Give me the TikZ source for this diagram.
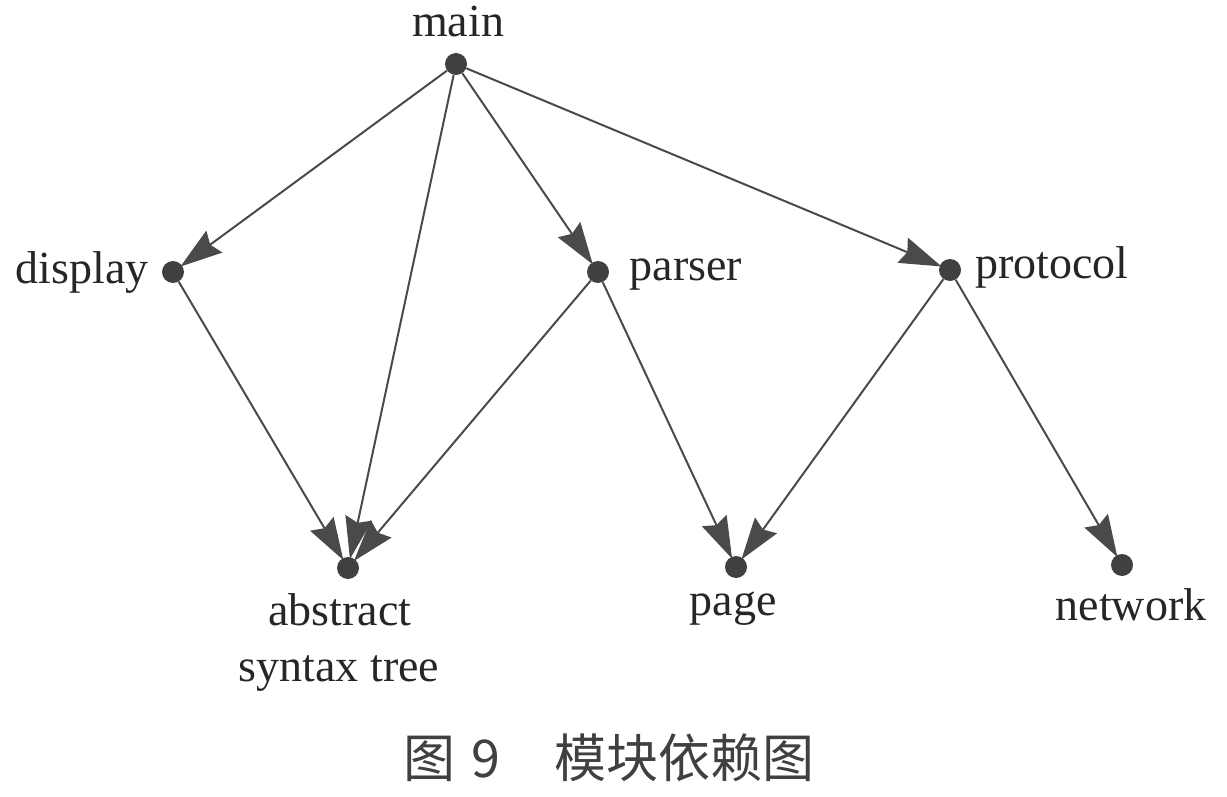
\documentclass[tikz,border=0pt]{standalone}
\usepackage{fontspec}
\setmainfont{Liberation Serif}
\newfontfamily\cjk{Noto Sans CJK SC}
\usetikzlibrary{arrows.meta}
\definecolor{ink}{HTML}{404040}
\definecolor{edge}{HTML}{4A4A4A}
\tikzset{
  dot/.style={circle,fill=ink,inner sep=0pt,minimum size=22pt},
  lbl/.style={inner sep=0pt,anchor=base,font=\fontsize{46}{54}\selectfont,text=black!85},
  captext/.style={inner sep=0pt,anchor=base,font=\cjk\fontsize{52}{60}\selectfont,text=black!75},
  dep/.style={draw=edge,line width=2pt,-{Stealth[length=42pt,width=27pt,inset=5pt]},shorten >=-2pt}
}
\begin{document}
\begin{tikzpicture}[x=1pt,y=-1pt]
\useasboundingbox (0,0) rectangle (1227,797);
\node[dot] (main) at (456,64) {};
\node[dot] (display) at (173,272) {};
\node[dot] (parser) at (598,272) {};
\node[dot] (protocol) at (950,270) {};
\node[dot] (ast) at (348,568) {};
\node[dot] (page) at (736,567) {};
\node[dot] (network) at (1122,565) {};

\node[lbl] (tmain) at (458,37) {main};
\node[lbl] (tdisplay) at (82,283) {display};
\node[lbl] (tparser) at (686,280) {parser};
\node[lbl] (tprotocol) at (1052,278) {protocol};
\node[lbl] (tast1) at (340,625) {abstract};
\node[lbl] (tast2) at (339,681) {syntax tree};
\node[lbl] (tpage) at (733,615) {page};
\node[lbl] (tnetwork) at (1131,620) {network};

\node[captext] (cap1) at (452,777) {图\hspace{16pt}9};
\node[captext] (cap2) at (684,777) {模块依赖图};

\draw[dep] (main) -- (display);
\draw[dep] (main) -- (ast);
\draw[dep] (main) -- (parser);
\draw[dep] (main) -- (protocol);
\draw[dep] (display) -- (ast);
\draw[dep] (parser) -- (ast);
\draw[dep] (parser) -- (page);
\draw[dep] (protocol) -- (page);
\draw[dep] (protocol) -- (network);
\end{tikzpicture}
\end{document}
